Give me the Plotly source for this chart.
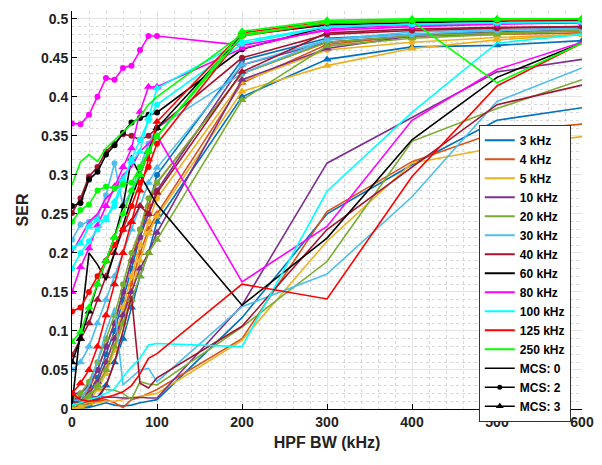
import plotly.graph_objects as go

# HPF bandwidth (kHz) sampled for every curve
X = [0, 10, 20, 30, 40, 50, 60, 70, 80, 90, 100, 200, 300, 400, 500, 600]

FREQS = ["3 kHz", "4 kHz", "5 kHz", "10 kHz", "20 kHz", "30 kHz",
         "40 kHz", "60 kHz", "80 kHz", "100 kHz", "125 kHz", "250 kHz"]

COLORS = ["#0072BD", "#D95319", "#EDB120", "#7E2F8E", "#77AC30", "#4DBEEE",
          "#A2142F", "#000000", "#FF00FF", "#00FFFF", "#FF0000", "#00FF00"]

# SER per frequency (same order as FREQS), MCS 0
SER_MCS0 = [
    [0.002, 0.001, 0.002, 0.005, 0.008, 0.005, 0.004, 0.005, 0.008, 0.010, 0.012, 0.117, 0.250, 0.313, 0.370, 0.386],
    [0.000, 0.003, 0.008, 0.010, 0.012, 0.008, 0.002, 0.012, 0.015, 0.020, 0.025, 0.090, 0.253, 0.317, 0.355, 0.365],
    [0.000, 0.002, 0.005, 0.008, 0.010, 0.010, 0.012, 0.014, 0.016, 0.018, 0.020, 0.088, 0.215, 0.315, 0.335, 0.349],
    [0.015, 0.012, 0.015, 0.016, 0.015, 0.015, 0.014, 0.014, 0.015, 0.014, 0.014, 0.133, 0.315, 0.373, 0.432, 0.448],
    [0.005, 0.010, 0.020, 0.026, 0.025, 0.024, 0.020, 0.012, 0.035, 0.032, 0.031, 0.105, 0.189, 0.343, 0.385, 0.422],
    [0.010, 0.012, 0.030, 0.060, 0.100, 0.130, 0.031, 0.040, 0.050, 0.052, 0.035, 0.131, 0.173, 0.272, 0.394, 0.437],
    [0.010, 0.008, 0.010, 0.015, 0.030, 0.060, 0.100, 0.145, 0.033, 0.027, 0.040, 0.106, 0.230, 0.310, 0.390, 0.415],
    [0.005, 0.100, 0.200, 0.185, 0.165, 0.200, 0.235, 0.270, 0.300, 0.280, 0.262, 0.133, 0.219, 0.345, 0.425, 0.469],
    [0.200, 0.220, 0.240, 0.250, 0.270, 0.280, 0.300, 0.310, 0.330, 0.340, 0.350, 0.163, 0.234, 0.370, 0.435, 0.470],
    [0.005, 0.008, 0.012, 0.015, 0.020, 0.026, 0.041, 0.054, 0.065, 0.082, 0.084, 0.080, 0.279, 0.380, 0.469, 0.480],
    [0.020, 0.012, 0.010, 0.012, 0.015, 0.018, 0.022, 0.030, 0.045, 0.065, 0.071, 0.160, 0.141, 0.298, 0.414, 0.469],
    [0.287, 0.317, 0.326, 0.317, 0.334, 0.345, 0.355, 0.365, 0.375, 0.390, 0.400, 0.480, 0.495, 0.497, 0.418, 0.469],
]

# MCS 2
SER_MCS2 = [
    [0.005, 0.010, 0.020, 0.040, 0.070, 0.100, 0.140, 0.180, 0.220, 0.260, 0.300, 0.447, 0.475, 0.480, 0.483, 0.485],
    [0.010, 0.015, 0.025, 0.050, 0.080, 0.110, 0.150, 0.190, 0.230, 0.260, 0.290, 0.430, 0.470, 0.478, 0.480, 0.482],
    [0.005, 0.010, 0.020, 0.035, 0.060, 0.090, 0.130, 0.170, 0.210, 0.240, 0.270, 0.420, 0.460, 0.470, 0.476, 0.480],
    [0.020, 0.020, 0.030, 0.050, 0.080, 0.110, 0.150, 0.190, 0.220, 0.250, 0.280, 0.441, 0.470, 0.478, 0.482, 0.485],
    [0.015, 0.020, 0.035, 0.060, 0.090, 0.120, 0.160, 0.200, 0.230, 0.270, 0.290, 0.430, 0.470, 0.478, 0.482, 0.485],
    [0.217, 0.236, 0.240, 0.245, 0.274, 0.315, 0.260, 0.280, 0.310, 0.340, 0.360, 0.430, 0.473, 0.480, 0.485, 0.487],
    [0.251, 0.270, 0.298, 0.310, 0.330, 0.340, 0.352, 0.350, 0.345, 0.350, 0.360, 0.450, 0.480, 0.485, 0.488, 0.490],
    [0.260, 0.264, 0.294, 0.304, 0.326, 0.338, 0.354, 0.367, 0.373, 0.377, 0.380, 0.461, 0.490, 0.493, 0.495, 0.497],
    [0.366, 0.365, 0.377, 0.400, 0.424, 0.422, 0.437, 0.440, 0.460, 0.478, 0.478, 0.466, 0.485, 0.490, 0.493, 0.495],
    [0.180, 0.200, 0.215, 0.230, 0.245, 0.260, 0.290, 0.320, 0.345, 0.370, 0.390, 0.468, 0.490, 0.493, 0.495, 0.496],
    [0.125, 0.130, 0.150, 0.170, 0.190, 0.210, 0.230, 0.260, 0.290, 0.310, 0.340, 0.478, 0.494, 0.497, 0.498, 0.499],
    [0.240, 0.255, 0.262, 0.280, 0.285, 0.283, 0.288, 0.290, 0.310, 0.330, 0.350, 0.478, 0.496, 0.498, 0.499, 0.500],
]

# MCS 3
SER_MCS3 = [
    [0.000, 0.002, 0.005, 0.012, 0.030, 0.060, 0.090, 0.130, 0.170, 0.200, 0.240, 0.400, 0.448, 0.464, 0.466, 0.472],
    [0.002, 0.005, 0.012, 0.030, 0.050, 0.080, 0.120, 0.160, 0.200, 0.230, 0.250, 0.418, 0.467, 0.478, 0.482, 0.485],
    [0.000, 0.003, 0.010, 0.025, 0.045, 0.075, 0.110, 0.150, 0.190, 0.225, 0.247, 0.407, 0.440, 0.462, 0.473, 0.480],
    [0.010, 0.012, 0.020, 0.035, 0.060, 0.090, 0.120, 0.150, 0.180, 0.200, 0.226, 0.422, 0.462, 0.478, 0.482, 0.486],
    [0.005, 0.008, 0.015, 0.030, 0.050, 0.080, 0.110, 0.140, 0.170, 0.200, 0.217, 0.396, 0.465, 0.475, 0.480, 0.485],
    [0.050, 0.060, 0.080, 0.110, 0.140, 0.170, 0.200, 0.230, 0.260, 0.290, 0.309, 0.441, 0.473, 0.483, 0.486, 0.488],
    [0.069, 0.090, 0.110, 0.140, 0.170, 0.200, 0.230, 0.240, 0.260, 0.250, 0.277, 0.432, 0.482, 0.487, 0.489, 0.490],
    [0.060, 0.090, 0.125, 0.160, 0.190, 0.220, 0.260, 0.321, 0.300, 0.330, 0.360, 0.479, 0.492, 0.495, 0.497, 0.498],
    [0.150, 0.182, 0.206, 0.235, 0.260, 0.285, 0.310, 0.334, 0.381, 0.413, 0.413, 0.462, 0.487, 0.492, 0.494, 0.495],
    [0.206, 0.212, 0.234, 0.242, 0.242, 0.266, 0.294, 0.317, 0.330, 0.373, 0.411, 0.471, 0.490, 0.493, 0.495, 0.496],
    [0.020, 0.033, 0.050, 0.080, 0.120, 0.160, 0.200, 0.240, 0.280, 0.320, 0.368, 0.482, 0.496, 0.498, 0.499, 0.500],
    [0.086, 0.099, 0.130, 0.160, 0.190, 0.220, 0.250, 0.280, 0.300, 0.330, 0.349, 0.484, 0.498, 0.500, 0.500, 0.500],
]

MCS_LABELS = ["MCS: 0", "MCS: 2", "MCS: 3"]
MCS_SYMBOLS = [None, "circle", "triangle-up"]
MCS_SIZES = [0, 6, 8]

FONT = "Liberation Sans"

fig = go.Figure()

# Data curves, one per frequency and MCS
for i, freq in enumerate(FREQS):
    for m, data in enumerate([SER_MCS0, SER_MCS2, SER_MCS3]):
        sym = MCS_SYMBOLS[m]
        fig.add_trace(
            go.Scatter(
                x=X,
                y=data[i],
                mode="lines+markers" if sym else "lines",
                line=dict(color=COLORS[i], width=1.6),
                marker=dict(symbol=sym, size=MCS_SIZES[m], color=COLORS[i]) if sym else None,
                showlegend=False,
                hoverinfo="skip",
                name=f"{freq} {MCS_LABELS[m]}",
            )
        )

# Legend-only entries
for i, freq in enumerate(FREQS):
    fig.add_trace(
        go.Scatter(
            x=[None], y=[None], mode="lines",
            line=dict(color=COLORS[i], width=2), name=freq,
        )
    )
for m, lab in enumerate(MCS_LABELS):
    sym = MCS_SYMBOLS[m]
    fig.add_trace(
        go.Scatter(
            x=[None], y=[None],
            mode="lines+markers" if sym else "lines",
            line=dict(color="black", width=1.5),
            marker=dict(symbol=sym, size=MCS_SIZES[m] - 1, color="black") if sym else None,
            name=lab,
        )
    )

axis_common = dict(
    showline=True,
    linecolor="black",
    linewidth=1,
    ticks="inside",
    ticklen=5,
    tickcolor="black",
    tickfont=dict(family=FONT, size=14, color="#222", weight="bold"),
    title_font=dict(family=FONT, size=16, color="#222", weight="bold"),
    showgrid=True,
    gridcolor="#e3e3e3",
    gridwidth=1,
    zeroline=False,
    mirror=False,
    automargin=False,
)

fig.update_layout(
    width=602,
    height=465,
    margin=dict(l=64, r=28, t=3, b=64),
    plot_bgcolor="white",
    paper_bgcolor="white",
    xaxis=dict(
        axis_common,
        title=dict(text="HPF BW (kHz)", standoff=8),
        range=[0, 600],
        dtick=100,
        minor=dict(dtick=20, showgrid=True, gridcolor="#d8d8d8", griddash="dot", gridwidth=1),
    ),
    yaxis=dict(
        axis_common,
        title=dict(text="SER", standoff=8),
        range=[0, 0.51],
        dtick=0.05,
        minor=dict(dtick=0.01, showgrid=True, gridcolor="#d8d8d8", griddash="dot", gridwidth=1),
    ),
    legend=dict(
        x=0.978,
        y=0.714,
        xanchor="right",
        yanchor="top",
        bgcolor="white",
        bordercolor="#333",
        borderwidth=1,
        font=dict(family=FONT, size=12, color="black", weight="bold"),
        itemwidth=30,
        tracegroupgap=0,
    ),
)

fig.write_html("out.html")
